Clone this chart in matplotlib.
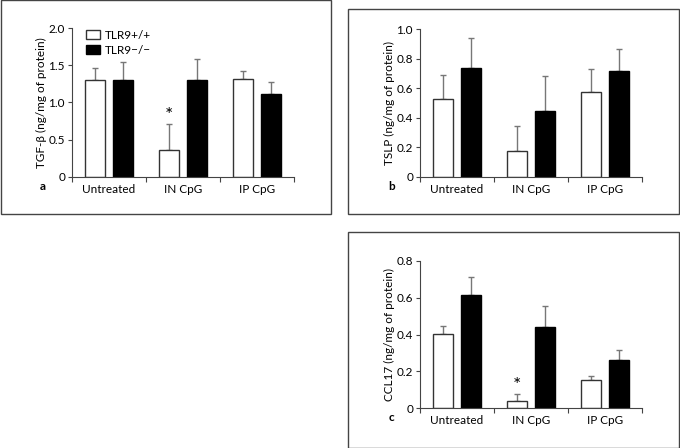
from matplotlib import pyplot as plt
from matplotlib.patches import Rectangle
import numpy as np

groups = ["Untreated", "IN CpG", "IP CpG"]
series = ["TLR9+/+", "TLR9\u2212/\u2212"]

# panel a: TGF-beta
tgf_wt = [1.30, 0.355, 1.31]
tgf_wt_top = [1.47, 0.706, 1.43]
tgf_ko = [1.30, 1.30, 1.12]
tgf_ko_top = [1.546, 1.58, 1.27]

# panel b: TSLP
tslp_wt = [0.525, 0.172, 0.572]
tslp_wt_top = [0.69, 0.344, 0.733]
tslp_ko = [0.74, 0.446, 0.715]
tslp_ko_top = [0.943, 0.68, 0.864]

# panel c: CCL17
ccl_wt = [0.401, 0.04, 0.152]
ccl_wt_top = [0.444, 0.079, 0.177]
ccl_ko = [0.614, 0.44, 0.262]
ccl_ko_top = [0.71, 0.555, 0.316]

plt.rcParams['font.family'] = ['Lato', 'DejaVu Sans']
plt.rcParams['font.size'] = 8.5

W, H = 680, 448
fig = plt.figure(figsize=(W / 100, H / 100), dpi=100)


def box(x0, y0, x1, y1):
    # frame drawn in pixel coords (top-left origin)
    fig.patches.append(Rectangle((x0 / W, 1 - y1 / H), (x1 - x0) / W, (y1 - y0) / H,
                                 transform=fig.transFigure, fill=False,
                                 edgecolor="#444444", linewidth=1.0))


def panel(rect, wt, wt_top, ko, ko_top, ylim, yticks, yticklabels, ylabel, letter, star=None):
    ax = fig.add_axes(rect)
    x = np.arange(len(groups))
    off, w = 0.19, 0.27
    wt = np.array(wt); ko = np.array(ko)
    ax.bar(x - off, wt, w, color="white", edgecolor="#333333", linewidth=1.0, label=series[0], zorder=2)
    ax.bar(x + off, ko, w, color="black", edgecolor="black", linewidth=1.0, label=series[1], zorder=2)
    ax.errorbar(x - off, wt, yerr=[np.zeros(3), np.array(wt_top) - wt], fmt="none",
                ecolor="#777777", elinewidth=1.0, capsize=2.2, capthick=1.0, zorder=1)
    ax.errorbar(x + off, ko, yerr=[np.zeros(3), np.array(ko_top) - ko], fmt="none",
                ecolor="#777777", elinewidth=1.0, capsize=2.2, capthick=1.0, zorder=1)
    if star is not None:
        ax.annotate("*", (star - off, wt_top[star]), xytext=(0, 0), textcoords="offset points",
                    ha="center", va="bottom", fontsize=14)
    ax.set_xlim(-0.5, 2.5)
    ax.set_ylim(*ylim)
    ax.set_yticks(yticks)
    ax.set_yticklabels(yticklabels)
    ax.set_xticks([-0.5, 0.5, 1.5, 2.5])
    ax.set_xticklabels([])
    ax.set_xticks(x, minor=True)
    ax.set_xticklabels(groups, minor=True)
    ax.tick_params(axis="x", which="major", direction="out", length=3.5, width=0.8, color="#444444")
    ax.tick_params(axis="x", which="minor", length=0, pad=5)
    ax.tick_params(axis="y", direction="out", length=3, width=0.8, color="#444444", pad=2)
    for s in ["top", "right"]:
        ax.spines[s].set_visible(False)
    for s in ["left", "bottom"]:
        ax.spines[s].set_color("#444444")
        ax.spines[s].set_linewidth(0.8)
    ax.set_ylabel(ylabel, labelpad=1)
    ax.text(-0.13, -0.065, letter, transform=ax.transAxes, fontweight="bold", ha="center", va="center")
    return ax


ax_a = panel([72 / W, 1 - 176.7 / H, 221.5 / W, 148.4 / H], tgf_wt, tgf_wt_top, tgf_ko, tgf_ko_top,
             (0, 2.0), [0, 0.5, 1.0, 1.5, 2.0], ["0", "0.5", "1.0", "1.5", "2.0"],
             "TGF-\u03b2 (ng/mg of protein)", "a", star=1)
ax_a.legend(loc="upper left", bbox_to_anchor=(0.04, 1.02), frameon=False, handlelength=1.2,
            handleheight=0.8, handletextpad=0.4, labelspacing=0.3, borderaxespad=0)

panel([420 / W, 1 - 176.7 / H, 222 / W, 147.4 / H], tslp_wt, tslp_wt_top, tslp_ko, tslp_ko_top,
      (0, 1.0), [0, 0.2, 0.4, 0.6, 0.8, 1.0], ["0", "0.2", "0.4", "0.6", "0.8", "1.0"],
      "TSLP (ng/mg of protein)", "b")

panel([420 / W, 1 - 408.3 / H, 222 / W, 147.6 / H], ccl_wt, ccl_wt_top, ccl_ko, ccl_ko_top,
      (0, 0.8), [0, 0.2, 0.4, 0.6, 0.8], ["0", "0.2", "0.4", "0.6", "0.8"],
      "CCL17 (ng/mg of protein)", "c", star=1)

box(1, 0.5, 331, 214.5)
box(348.5, 9.5, 679, 214.5)
box(348.5, 232.5, 679, 447.5)

fig.savefig("out.png", dpi=100)
